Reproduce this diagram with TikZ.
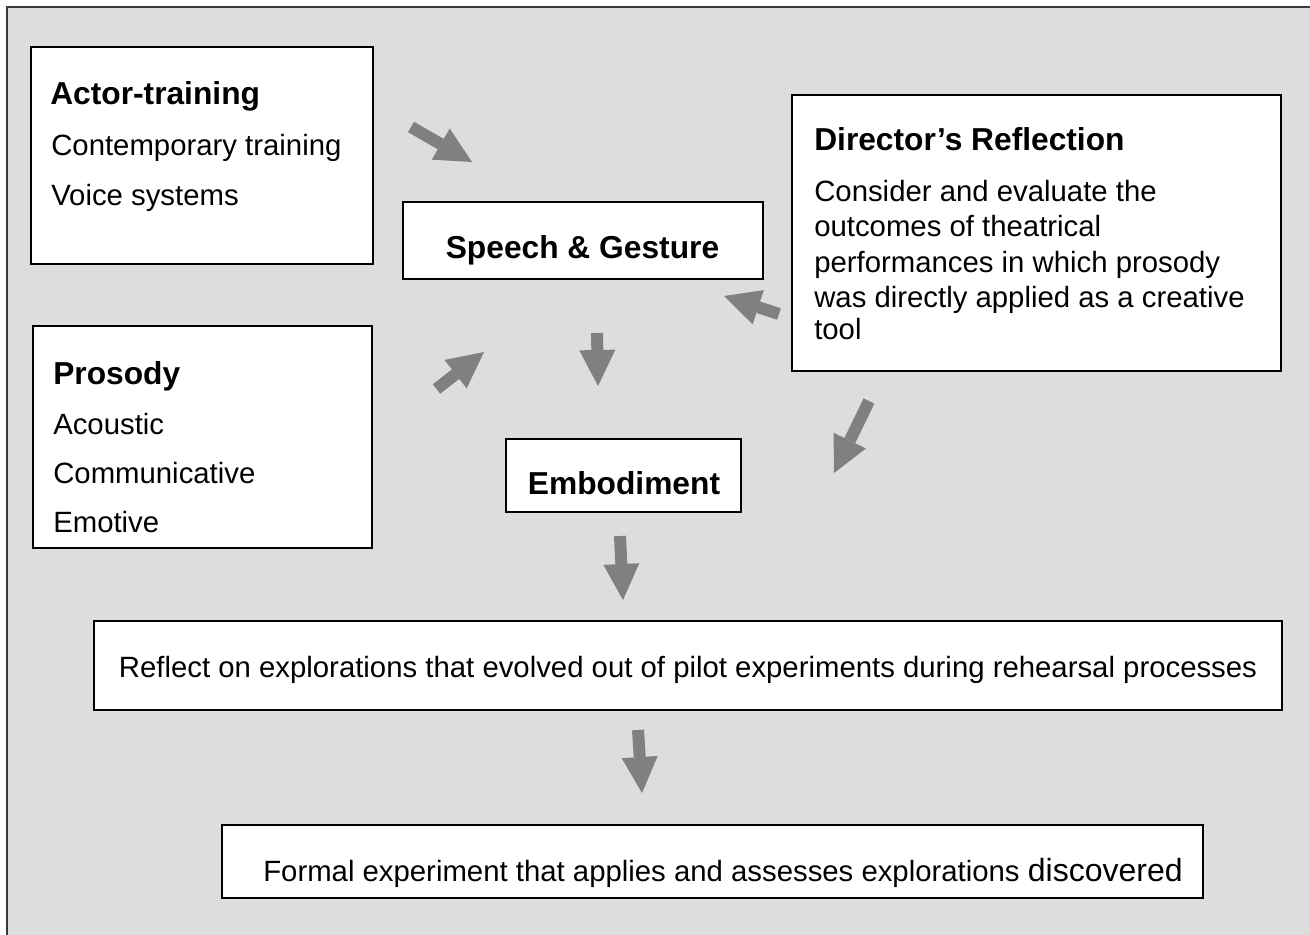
\documentclass[tikz,border=0pt]{standalone}
\usepackage{fontspec}
\setmainfont{Liberation Sans}
\usetikzlibrary{arrows.meta}
\definecolor{bggray}{HTML}{DDDDDD}
\definecolor{arrowgray}{HTML}{808080}
\definecolor{framegray}{HTML}{3A3A3A}
\begin{document}
\begin{tikzpicture}[x=0.75pt, y=-0.75pt,
  box/.style={draw=black, fill=white, line width=1.5pt, rectangle, inner sep=0pt, outer sep=0pt, anchor=north west},
  title/.style={font=\fontsize{23.8}{28}\selectfont\bfseries, inner sep=0pt, anchor=base west},
  body/.style={font=\fontsize{22}{26}\selectfont, inner sep=0pt, anchor=base west},
  blockarrow/.style={draw=arrowgray, line width=9pt, line cap=butt,
    -{Triangle[width=27pt,length=27pt,line width=0pt]}}]
\useasboundingbox (0,0) rectangle (1310,935);
\clip (0,0) rectangle (1310,935);
\fill[white] (0,0) rectangle (1310,935);
\fill[bggray] (7,7) rectangle (1320,945);
\draw[framegray, line width=1.1pt] (1320,7) -- (7,7) -- (7,945);

% boxes
\node[box, minimum width=256.5pt, minimum height=162.75pt] (actor) at (31,47) {};
\node[box, minimum width=270pt, minimum height=57.75pt] (speech) at (403,202) {};
\node[box, minimum width=366.75pt, minimum height=207pt] (director) at (792,95) {};
\node[box, minimum width=254.25pt, minimum height=166.5pt] (prosody) at (33,326) {};
\node[box, minimum width=176.25pt, minimum height=54.75pt] (embod) at (506,439) {};
\node[box, minimum width=891pt, minimum height=66.75pt] (reflect) at (94,621) {};
\node[box, minimum width=735.75pt, minimum height=54.75pt] (formal) at (222,825) {};

% texts
\node[title] (actorT) at (50,104) {Actor-training};
\node[body] (actor1) at (51,155) {Contemporary training};
\node[body] (actor2) at (51,205) {Voice systems};

\node[title, anchor=base] (speechT) at (582.5,258) {Speech \& Gesture};

\node[title] (dirT) at (814,150) {Director’s Reflection};
\node[body] (dir1) at (814,201) {Consider and evaluate the};
\node[body] (dir2) at (814,236.5) {outcomes of theatrical};
\node[body] (dir3) at (814,272) {performances in which prosody};
\node[body] (dir4) at (814,307) {was directly applied as a creative};
\node[body] (dir5) at (814,339) {tool};

\node[title] (prosT) at (53,384) {Prosody};
\node[body] (pros1) at (53,434) {Acoustic};
\node[body] (pros2) at (53,483) {Communicative};
\node[body] (pros3) at (53,532) {Emotive};

\node[title, anchor=base] (embT) at (624,494) {Embodiment};

\node[body, anchor=base] (reflT) at (688,677) {Reflect on explorations that evolved out of pilot experiments during rehearsal processes};

\node[body] (formT) at (263,881) {Formal experiment that applies and assesses explorations {\fontsize{24}{28}\selectfont discovered}};

% arrows
\coordinate (a1s) at (411,127); \coordinate (a1e) at (472,162);
\coordinate (a2s) at (436.5,389); \coordinate (a2e) at (484,352);
\coordinate (a3s) at (597,333); \coordinate (a3e) at (598,386);
\coordinate (a4s) at (779,314); \coordinate (a4e) at (724,296);
\coordinate (a5s) at (869,401); \coordinate (a5e) at (834,473);
\coordinate (a6s) at (620,536); \coordinate (a6e) at (623,600);
\coordinate (a7s) at (638,730); \coordinate (a7e) at (642,793);
\draw[blockarrow] (a1s) -- (a1e);
\draw[blockarrow] (a2s) -- (a2e);
\draw[blockarrow] (a3s) -- (a3e);
\draw[blockarrow] (a4s) -- (a4e);
\draw[blockarrow] (a5s) -- (a5e);
\draw[blockarrow] (a6s) -- (a6e);
\draw[blockarrow] (a7s) -- (a7e);
\end{tikzpicture}
\end{document}
